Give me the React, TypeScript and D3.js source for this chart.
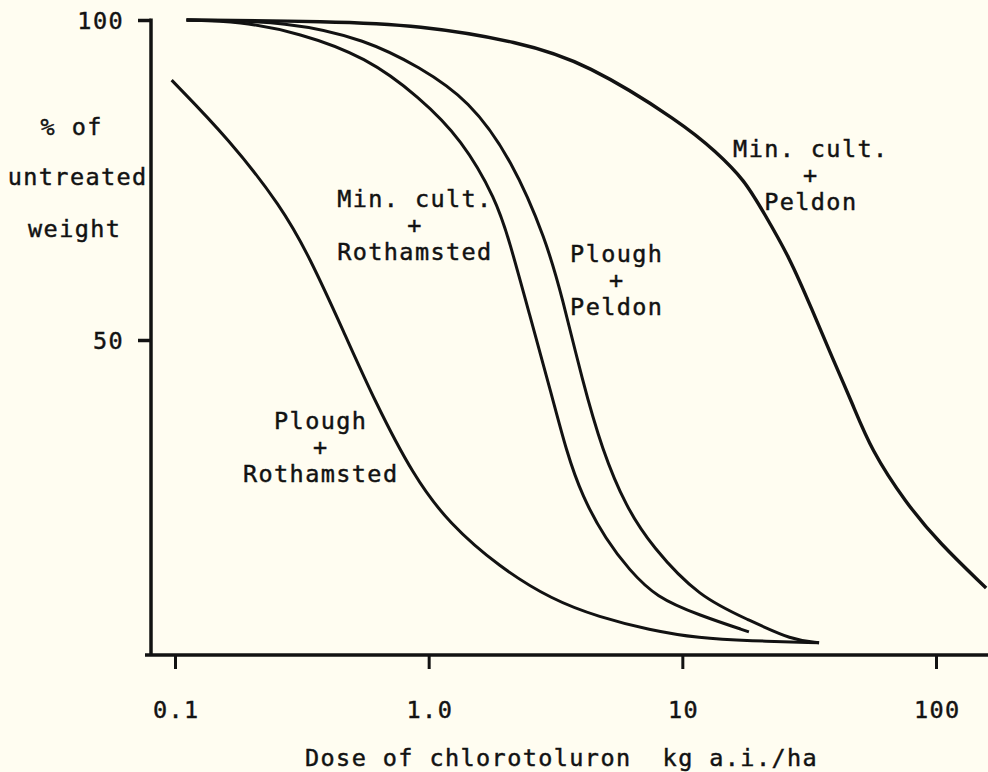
import { useEffect, useRef } from 'react';
import * as d3 from 'd3';

// dose ticks (kg a.i./ha) and % ticks
const doseTicks = [0.1, 1, 10, 100];
const doseTickLabels = ['0.1', '1.0', '10', '100'];
const pctTicks = [100, 50];

// Plough + Rothamsted
const ploughRothamstedDose = [0.097, 0.164, 0.263, 0.338, 0.465, 0.61, 0.875, 1.2, 1.9, 3.07, 4.7, 7.4, 11.65, 18.3, 34.6];
const ploughRothamstedPct = [90.6, 81.3, 70.8, 63.1, 51.1, 40.6, 28.6, 21.4, 14.5, 9.4, 6.7, 4.7, 3.4, 3.0, 2.7];

// Min. cult. + Rothamsted
const minRothamstedDose = [0.111, 0.179, 0.309, 0.567, 0.917, 1.355, 1.846, 2.077, 2.49, 3.07, 3.48, 4.03, 5.01, 6.17, 7.88, 11.65, 18.3];
const minRothamstedPct = [100, 99.8, 98.0, 94.2, 88.0, 81.3, 71.9, 65.6, 54.2, 41.1, 32.8, 25.5, 18.75, 14.1, 9.8, 7.0, 4.4];

// Plough + Peldon
const ploughPeldonDose = [0.111, 0.282, 0.567, 0.917, 1.445, 2.134, 2.904, 3.36, 4.03, 4.83, 6.0, 7.6, 11.65, 18.3, 27.1, 34.6];
const ploughPeldonPct = [100, 99.8, 96.9, 92.7, 87.5, 78.1, 65.6, 56.7, 43.75, 32.8, 23.9, 17.7, 9.8, 6.25, 3.1, 2.7];

// Min. cult. + Peldon
const minPeldonDose = [0.111, 0.405, 0.917, 2.27, 4.18, 9.98, 13.6, 17.6, 21.0, 26.4, 32.5, 38.9, 46.7, 55.5, 76.2, 102.9, 157.6];
const minPeldonPct = [100, 99.8, 99.2, 96.6, 93.3, 83.9, 79.4, 75.0, 69.8, 63.0, 54.7, 47.3, 40.2, 32.8, 24.5, 18.3, 11.25];

// curve labels, anchored in data units (dose, % of first line)
const curveLabels = [
  { lines: ['Min. cult.', '+', 'Rothamsted'], dose: 0.877, pct: 70.8 },
  { lines: ['Plough', '+', 'Peldon'], dose: 5.48, pct: 62.2 },
  { lines: ['Min. cult.', '+', 'Peldon'], dose: 31.9, pct: 78.6 },
  { lines: ['Plough', '+', 'Rothamsted'], dose: 0.373, pct: 36.1 },
];

const yTitle = ['% of', 'untreated', 'weight'];
const xTitle = 'Dose of chlorotoluron  kg a.i./ha';

const W = 988;
const H = 772;
const INK = '#121212';
const FONT = '"DejaVu Sans Mono", "Liberation Mono", monospace';
const LS = 1.4; // letter spacing

export default function App() {
  const ref = useRef<SVGSVGElement>(null);

  useEffect(() => {
    const svg = d3.select(ref.current);
    svg.selectAll('*').remove();

    const x = d3.scaleLog().domain([0.1, 100]).range([175, 936]);
    const y = d3.scaleLinear().domain([0, 100]).range([660, 20]);
    const axisY = 655;
    const axisX = 151;

    svg.append('rect').attr('width', W).attr('height', H).attr('fill', '#fffdf1');

    const txt = (sel: any) =>
      sel.attr('font-family', FONT).attr('font-size', 23.5).attr('letter-spacing', LS)
        .attr('fill', INK).attr('stroke', INK).attr('stroke-width', 0.45);

    // axis lines
    svg.append('line')
      .attr('x1', 145).attr('x2', W).attr('y1', axisY).attr('y2', axisY)
      .attr('stroke', INK).attr('stroke-width', 3.5);
    svg.append('line')
      .attr('x1', axisX).attr('x2', axisX).attr('y1', y(100) - 1.5).attr('y2', axisY)
      .attr('stroke', INK).attr('stroke-width', 3.5);

    // x axis ticks
    const xAxis = svg.append('g')
      .attr('transform', `translate(0,${axisY})`)
      .call(d3.axisBottom(x).tickValues(doseTicks).tickSize(14).tickPadding(32)
        .tickFormat((d, i) => doseTickLabels[i]));
    xAxis.select('.domain').remove();
    xAxis.selectAll('line').attr('stroke', INK).attr('stroke-width', 3);
    xAxis.selectAll('text').call(txt).attr('dx', LS / 2);

    // y axis ticks
    const yAxis = svg.append('g')
      .attr('transform', `translate(${axisX},0)`)
      .call(d3.axisLeft(y).tickValues(pctTicks).tickSize(13).tickPadding(14)
        .tickFormat(d => String(d)));
    yAxis.select('.domain').remove();
    yAxis.selectAll('line').attr('stroke', INK).attr('stroke-width', 3.5);
    yAxis.selectAll('text').call(txt).attr('dy', '0.38em');

    // curves
    const series = [
      [ploughRothamstedDose, ploughRothamstedPct],
      [minRothamstedDose, minRothamstedPct],
      [ploughPeldonDose, ploughPeldonPct],
      [minPeldonDose, minPeldonPct],
    ];
    const line = d3.line<[number, number]>()
      .x(d => x(d[0]))
      .y(d => y(d[1]))
      .curve(d3.curveBasis);

    series.forEach(([dose, pct], i) => {
      const pts = dose.map((d, j) => [d, pct[j]] as [number, number]);
      svg.append('path')
        .attr('d', line(pts))
        .attr('fill', 'none')
        .attr('stroke', INK)
        .attr('stroke-width', i === 3 ? 3.4 : 3);
    });

    // curve labels
    curveLabels.forEach(lab => {
      lab.lines.forEach((t, k) => {
        svg.append('text')
          .call(txt)
          .attr('x', x(lab.dose) + LS / 2)
          .attr('y', y(lab.pct) + k * 26.5)
          .attr('text-anchor', 'middle')
          .text(t);
      });
    });

    // y title
    const yTitleX = [71, 77, 74];
    const yTitleBase = [135, 185, 237];
    yTitle.forEach((t, k) => {
      svg.append('text')
        .call(txt)
        .attr('x', yTitleX[k] + LS / 2)
        .attr('y', yTitleBase[k])
        .attr('text-anchor', 'middle')
        .text(t);
    });

    // x title
    svg.append('text')
      .call(txt)
      .attr('x', 305)
      .attr('y', 766)
      .style('white-space', 'pre')
      .text(xTitle);
  }, []);

  return (
    <svg
      ref={ref}
      width={W}
      height={H}
      style={{ position: 'absolute', left: 0, top: 0, display: 'block' }}
    />
  );
}
